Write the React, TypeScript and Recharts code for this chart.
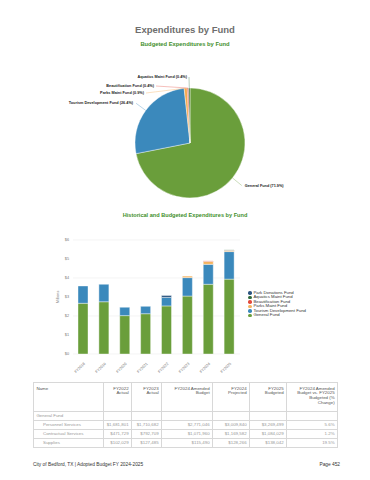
import React from 'react';
import { PieChart, Pie, Cell, BarChart, Bar, XAxis, YAxis, CartesianGrid, Legend } from 'recharts';

// ---------- data ----------
const pieFunds = ['General Fund', 'Tourism Development Fund', 'Parks Maint Fund', 'Beautification Fund', 'Aquatics Maint Fund'];
const pieShares = [71.9, 26.4, 0.9, 0.4, 0.4];
const pieColors = ['#6a9e3b', '#3b89bc', '#f5a94e', '#e2493b', '#2f6b3c'];

const years = ['FY2018', 'FY2019', 'FY2020', 'FY2021', 'FY2022', 'FY2023', 'FY2024', 'FY2025'];
const generalFund = [2.67, 2.75, 2.02, 2.12, 2.53, 3.05, 3.67, 3.94];
const tourismFund = [0.91, 0.92, 0.44, 0.39, 0.45, 0.97, 1.05, 1.45];
const parksMaintFund = [0, 0, 0, 0, 0, 0.08, 0.15, 0.05];
const beautificationFund = [0, 0, 0, 0, 0, 0, 0.03, 0.02];
const aquaticsMaintFund = [0, 0, 0, 0, 0, 0, 0, 0.02];
const parkDonationsFund = [0, 0, 0, 0, 0.1, 0, 0, 0];
const yTicks = [0, 1, 2, 3, 4, 5, 6];

const seriesNames = ['General Fund', 'Tourism Development Fund', 'Parks Maint Fund', 'Beautification Fund', 'Aquatics Maint Fund', 'Park Donations Fund'];
const seriesKeys = ['general', 'tourism', 'parks', 'beaut', 'aquatics', 'donations'];
const seriesColors = ['#6a9e3b', '#3b89bc', '#f5b35e', '#e2493b', '#2f6b3c', '#2d5580'];

const tableHeaders = ['Name', 'FY2022\nActual', 'FY2023\nActual', 'FY2024 Amended\nBudget', 'FY2024\nProjected', 'FY2025\nBudgeted', 'FY2024 Amended\nBudget vs. FY2025\nBudgeted (%\nChange)'];
const tableGroup = 'General Fund';
const rowNames = ['Personnel Services', 'Contractual Services', 'Supplies'];
const personnelServices = ['$1,681,801', '$1,710,682', '$2,771,046', '$3,009,840', '$3,269,499', '5.6%'];
const contractualServices = ['$471,729', '$792,709', '$1,071,960', '$1,169,582', '$1,084,029', '1.2%'];
const supplies = ['$102,029', '$127,485', '$115,490', '$128,266', '$138,042', '19.5%'];

// ---------- derived ----------
const pieData = pieFunds.map((name, i) => ({ name, value: pieShares[i] }));
const barData = years.map((year, i) => ({
  year,
  general: generalFund[i],
  tourism: tourismFund[i],
  parks: parksMaintFund[i],
  beaut: beautificationFund[i],
  aquatics: aquaticsMaintFund[i],
  donations: parkDonationsFund[i],
}));
const tableRows = [personnelServices, contractualServices, supplies];

const FONT = '"Liberation Sans", Arial, Helvetica, sans-serif';
const RAD = Math.PI / 180;

const renderPieLabel = (p: any) => {
  const { cx, cy, midAngle, outerRadius, index, name } = p;
  const cos = Math.cos(-midAngle * RAD);
  const sin = Math.sin(-midAngle * RAD);
  const ex = cx + outerRadius * cos;
  const ey = cy + outerRadius * sin;
  const text = `${name} (${pieShares[index].toFixed(1)}%)`;
  const color = pieColors[index];
  let lx: number, ly: number, tx: number, anchor: 'start' | 'end';
  if (index < 2) {
    const r2 = outerRadius + 12;
    lx = cx + r2 * cos;
    ly = cy + r2 * sin;
    const right = lx > cx;
    tx = lx + (right ? 3 : -3);
    anchor = right ? 'start' : 'end';
  } else {
    const offs: Record<number, [number, number]> = { 2: [-44, -50], 3: [-34, -57], 4: [-1, -66] };
    const o = offs[index];
    lx = cx + o[0];
    ly = cy + o[1];
    tx = lx - 2;
    anchor = 'end';
  }
  return (
    <g key={`lbl-${index}`}>
      <polyline points={`${ex},${ey} ${lx},${ly}`} stroke={color} strokeOpacity={0.7} strokeWidth={0.5} fill="none" />
      <text x={tx} y={ly} textAnchor={anchor} dominantBaseline="central" fontSize={3.8} fontWeight={700} fill="#222" fontFamily={FONT}>
        {text}
      </text>
    </g>
  );
};

// legend lists the series top of stack first
const renderLegend = () => {
  const order = seriesNames.map((n, i) => ({ name: n, color: seriesColors[i] })).reverse();
  return (
    <div style={{ fontFamily: FONT, fontSize: 4.3, lineHeight: '4.55px', color: '#333' }}>
      {order.map((it) => (
        <div key={it.name} style={{ display: 'flex', alignItems: 'center', whiteSpace: 'nowrap' }}>
          <span style={{ display: 'inline-block', width: 3.6, height: 3.6, borderRadius: '50%', background: it.color, marginRight: 1.8 }} />
          {it.name}
        </div>
      ))}
    </div>
  );
};

const cellBorder = '0.6px solid #d8d8d8';
const colWidths = [70, 28, 30, 51, 37, 37, 51];

export default function App() {
  return (
    <div style={{ position: 'absolute', left: 0, top: 0, width: 370, height: 480, background: '#fff', fontFamily: FONT, overflow: 'hidden' }}>
      <div style={{ position: 'absolute', top: 24, left: 0, width: 370, textAlign: 'center', fontSize: 9.5, lineHeight: '11px', fontWeight: 700, color: '#6e6e6e' }}>
        Expenditures by Fund
      </div>
      <div style={{ position: 'absolute', top: 40.5, left: 0, width: 370, textAlign: 'center', fontSize: 5.8, lineHeight: '7px', fontWeight: 700, color: '#3f8f2b' }}>
        Budgeted Expenditures by Fund
      </div>

      <div style={{ position: 'absolute', left: 0, top: 0 }}>
        <PieChart width={370} height={205}>
          <Pie
            data={pieData}
            dataKey="value"
            nameKey="name"
            cx={185}
            cy={138}
            outerRadius={55}
            startAngle={90}
            endAngle={-270}
            stroke="#fff"
            strokeWidth={0.4}
            label={renderPieLabel}
            labelLine={false}
            isAnimationActive={false}
          >
            {pieData.map((d, i) => (
              <Cell key={d.name} fill={pieColors[i]} />
            ))}
          </Pie>
        </PieChart>
      </div>

      <div style={{ position: 'absolute', top: 211.5, left: 0, width: 370, textAlign: 'center', fontSize: 5.6, lineHeight: '7px', fontWeight: 700, color: '#3f8f2b' }}>
        Historical and Budgeted Expenditures by Fund
      </div>

      <div style={{ position: 'absolute', left: 0, top: 230 }}>
        <BarChart width={370} height={150} data={barData} margin={{ top: 10, right: 130, left: 0, bottom: 0 }} barSize={10}>
          <CartesianGrid vertical={false} stroke="#ececec" strokeWidth={0.6} />
          <XAxis
            dataKey="year"
            axisLine={false}
            tickLine={false}
            height={26}
            interval={0}
            tick={{ fontSize: 3.8, fill: '#777', fontFamily: FONT }}
            angle={-45}
            textAnchor="end"
            tickMargin={2}
          />
          <YAxis
            width={73}
            domain={[0, 6]}
            ticks={yTicks}
            axisLine={false}
            tickLine={false}
            tickSize={0}
            tickMargin={4}
            tickFormatter={(v: number) => `$${v}`}
            tick={{ fontSize: 3.8, fill: '#777', fontFamily: FONT }}
            label={{ value: 'Millions', angle: -90, position: 'insideLeft', offset: 58, style: { fontSize: 3.8, fill: '#777', fontFamily: FONT, textAnchor: 'middle' } }}
          />
          <Legend
            layout="vertical"
            align="center"
            verticalAlign="middle"
            content={renderLegend}
            wrapperStyle={{ left: 248, top: 60.5, width: 110 }}
          />
          {seriesKeys.map((k, i) => (
            <Bar key={k} dataKey={k} name={seriesNames[i]} stackId="a" fill={seriesColors[i]} stroke="#fff" strokeWidth={0.4} isAnimationActive={false} />
          ))}
        </BarChart>
      </div>

      <table
        style={{
          position: 'absolute',
          left: 33,
          top: 382,
          width: 304,
          borderCollapse: 'collapse',
          tableLayout: 'fixed',
          fontSize: 4.4,
          lineHeight: '4.75px',
          fontFamily: FONT,
          border: cellBorder,
        }}
      >
        <colgroup>
          {colWidths.map((w, i) => (
            <col key={i} style={{ width: w }} />
          ))}
        </colgroup>
        <thead>
          <tr style={{ height: 29 }}>
            {tableHeaders.map((h, i) => (
              <th
                key={i}
                style={{
                  border: cellBorder,
                  verticalAlign: 'top',
                  textAlign: i === 0 ? 'left' : 'right',
                  fontWeight: 400,
                  color: '#555',
                  padding: '3.5px 2.4px 0 2.4px',
                  whiteSpace: 'pre-line',
                }}
              >
                {h}
              </th>
            ))}
          </tr>
        </thead>
        <tbody>
          <tr style={{ height: 9 }}>
            <td style={{ border: cellBorder, color: '#999', padding: '0 2.4px' }}>{tableGroup}</td>
            {colWidths.slice(1).map((_, i) => (
              <td key={i} style={{ border: cellBorder }} />
            ))}
          </tr>
          {tableRows.map((r, ri) => (
            <tr key={ri} style={{ height: 9 }}>
              <td style={{ border: cellBorder, color: '#999', padding: '0 2.4px 0 9px', whiteSpace: 'nowrap' }}>{rowNames[ri]}</td>
              {r.map((v, ci) => (
                <td key={ci} style={{ border: cellBorder, color: '#999', textAlign: 'right', padding: '0 2.4px', whiteSpace: 'nowrap' }}>
                  {v}
                </td>
              ))}
            </tr>
          ))}
        </tbody>
      </table>

      <div style={{ position: 'absolute', left: 33, top: 462, fontSize: 4.8, lineHeight: '6px', color: '#333' }}>
        City of Bedford, TX | Adopted Budget FY 2024-2025
      </div>
      <div style={{ position: 'absolute', right: 30, top: 462, fontSize: 4.8, lineHeight: '6px', color: '#333' }}>Page 452</div>
    </div>
  );
}
